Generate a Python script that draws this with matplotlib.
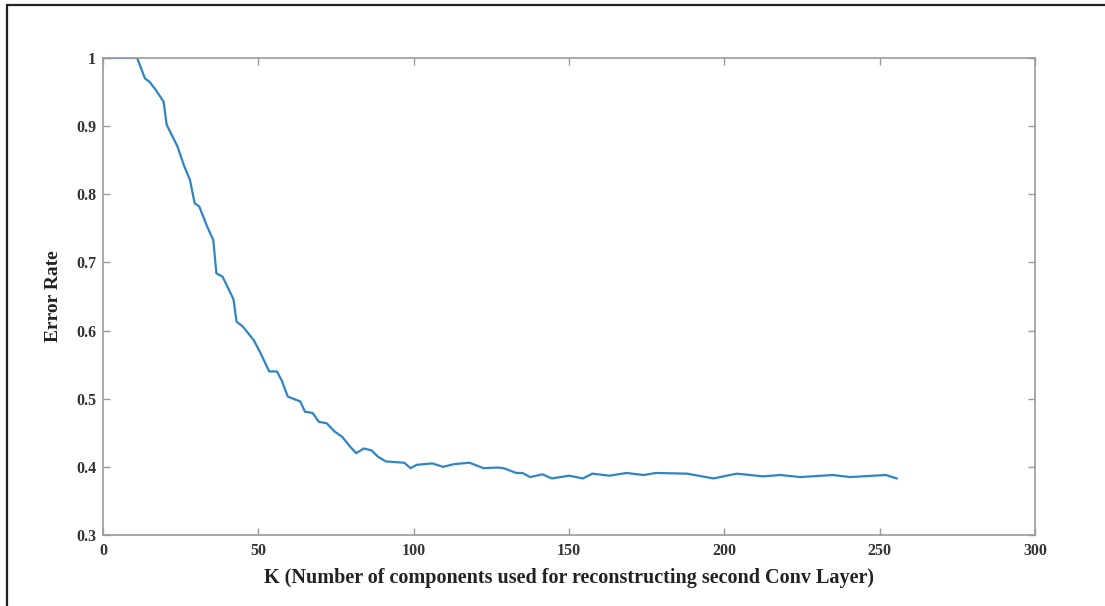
import matplotlib.pyplot as plt
from matplotlib.patches import Rectangle

# values
k_values = [1, 11, 13.5, 15, 17, 19.5, 20.5, 24, 26, 28, 29.5, 31, 33.5, 35.5,
            36.5, 38.5, 42, 43, 45, 48.5, 50.5, 53.5, 56, 57.5, 59.5, 63.5, 65,
            67.5, 69.5, 72, 74.5, 77, 79.5, 81.5, 84, 86.5, 88.5, 91, 97, 99,
            101, 106, 109.5, 113, 118, 122.5, 127, 129, 133, 135, 137.5, 141.5,
            144.5, 150, 154.5, 157.5, 163, 168.5, 174, 178, 188, 196.5, 204,
            212.5, 218, 224.5, 235, 240.5, 252, 255.5]
error_rate = [1.0, 1.0, 0.970, 0.965, 0.953, 0.936, 0.902, 0.870, 0.843, 0.821,
              0.787, 0.782, 0.753, 0.733, 0.684, 0.679, 0.646, 0.613, 0.606,
              0.586, 0.569, 0.540, 0.540, 0.527, 0.503, 0.496, 0.481, 0.479,
              0.466, 0.464, 0.452, 0.444, 0.430, 0.420, 0.427, 0.424, 0.415,
              0.408, 0.406, 0.398, 0.403, 0.405, 0.400, 0.404, 0.406, 0.398,
              0.399, 0.398, 0.391, 0.391, 0.385, 0.389, 0.383, 0.387, 0.383,
              0.390, 0.387, 0.391, 0.388, 0.391, 0.390, 0.383, 0.390, 0.386,
              0.388, 0.385, 0.388, 0.385, 0.388, 0.383]

x_ticks = [0, 50, 100, 150, 200, 250, 300]
y_ticks = [0.3, 0.4, 0.5, 0.6, 0.7, 0.8, 0.9, 1.0]
y_tick_labels = ['0.3', '0.4', '0.5', '0.6', '0.7', '0.8', '0.9', '1']

plt.rcParams['font.family'] = ['Liberation Serif', 'DejaVu Serif']
plt.rcParams['font.weight'] = 'bold'

fig = plt.figure(figsize=(11.05, 6.06), dpi=100)
ax = fig.add_axes([0.0932, 0.1172, 0.8434, 0.7871])

ax.plot(k_values, error_rate, color='#2f85c4', linewidth=1.6)

ax.set_xlim(0, 300)
ax.set_ylim(0.3, 1.0)
ax.set_xticks(x_ticks)
ax.set_yticks(y_ticks)
ax.set_yticklabels(y_tick_labels)

for side in ['left', 'right', 'top', 'bottom']:
    ax.spines[side].set_color('#9a9a9a')
    ax.spines[side].set_linewidth(1.2)
ax.tick_params(direction='in', length=5, width=1, color='#9a9a9a',
               top=True, right=True, labelsize=11.5, labelcolor='#333333')
ax.tick_params(axis='x', pad=6)
ax.tick_params(axis='y', pad=5)

ax.set_xlabel('K (Number of components used for reconstructing second Conv Layer)',
              fontsize=14.5, fontweight='bold', color='#222222', labelpad=6)
ax.set_ylabel('Error Rate', fontsize=14, fontweight='bold', color='#222222',
              labelpad=10)

# outer frame (only left/top edges fall inside the image)
fig.patches.append(Rectangle((7 / 1105, -0.2), 1.3, 1.2 - 5 / 606,
                             transform=fig.transFigure, fill=False,
                             edgecolor='#222222', linewidth=1.6))

fig.savefig('out.png', dpi=100)
